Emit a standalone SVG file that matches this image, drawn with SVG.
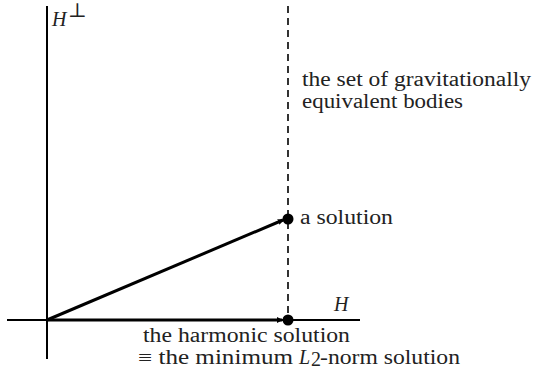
<svg xmlns="http://www.w3.org/2000/svg" width="535" height="369" viewBox="0 0 535 369">
<style>
.ax{stroke:#000;stroke-width:2;fill:none}
.vec{stroke:#000;stroke-width:3;fill:none}
.dash{stroke:#000;stroke-width:1.6;stroke-dasharray:7,5;fill:none}
text{font-family:"Liberation Serif","DejaVu Serif",serif;font-size:20px;fill:#222}
.it{font-style:italic}
</style>
<defs>
<marker id="ah" markerWidth="6" markerHeight="6" refX="5" refY="3" orient="auto" markerUnits="userSpaceOnUse">
<path d="M0,0 L6,3 L0,6 Z" fill="#000"/>
</marker>
</defs>
<g id="axes">
<line class="ax" x1="47" y1="6" x2="47" y2="359"/>
<line class="ax" x1="7" y1="320" x2="360" y2="320"/>
<text class="it" x="52" y="26" font-size="21">H</text>
<text x="68" y="17" font-size="13">⊥</text>
<text class="it" x="334" y="311" font-size="21">H</text>
</g>
<g id="connectors">
<line class="dash" x1="288" y1="6" x2="288" y2="320"/>
<line class="vec" x1="47" y1="320" x2="283" y2="220" marker-end="url(#ah)"/>
<line class="vec" x1="47" y1="320" x2="282" y2="320" marker-end="url(#ah)"/>
</g>
<g id="set-label">
<text x="302" y="86" textLength="229" lengthAdjust="spacingAndGlyphs">the set of gravitationally</text>
<text x="302" y="108" textLength="161" lengthAdjust="spacingAndGlyphs">equivalent bodies</text>
</g>
<g id="solution">
<circle cx="288" cy="219" r="5.5" fill="#000"/>
<text x="300" y="224" textLength="93" lengthAdjust="spacingAndGlyphs">a solution</text>
</g>
<g id="harmonic">
<circle cx="288" cy="320" r="5.5" fill="#000"/>
<text x="143" y="342" textLength="207" lengthAdjust="spacingAndGlyphs">the harmonic solution</text>
<text x="138" y="364" textLength="155" lengthAdjust="spacingAndGlyphs">≡ the minimum</text>
<text class="it" x="299" y="364">L</text>
<text x="311" y="366" font-size="11">2</text>
<text x="320" y="364" textLength="140" lengthAdjust="spacingAndGlyphs">-norm solution</text>
</g>
</svg>
